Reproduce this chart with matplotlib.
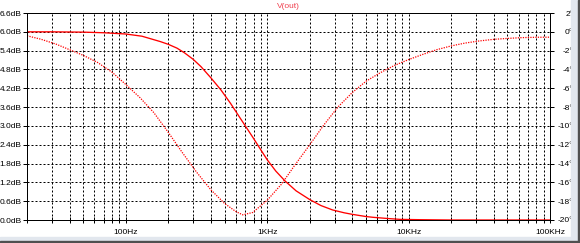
import numpy as np
import matplotlib
matplotlib.use('Agg')
import matplotlib.pyplot as plt
from matplotlib.patches import Rectangle

plt.rcParams['font.family'] = ['Liberation Sans', 'DejaVu Sans']

# magnitude trace (solid), dB on left axis
freq_mag = [20, 30, 50, 70, 100, 130, 175, 200, 230, 260, 300, 340, 400, 470,
            550, 650, 790, 900, 1000, 1150, 1340, 1600, 2000, 2400, 2900,
            3500, 4000, 5000, 5600, 7000, 8700, 12000, 20000, 50000, 100000]
mag_db = [6.0, 6.0, 5.99, 5.97, 5.93, 5.86, 5.69, 5.60, 5.48, 5.33, 5.12, 4.89,
          4.53, 4.15, 3.72, 3.22, 2.64, 2.24, 1.92, 1.56, 1.24, 0.93, 0.65,
          0.46, 0.32, 0.23, 0.18, 0.11, 0.086, 0.05, 0.02, 0.01, 0.0, 0.0, 0.0]

# phase trace (dotted), right axis
freq_ph = [20, 25, 32, 40, 50, 63, 80, 100, 126, 158, 200, 250, 316, 400, 500,
           600, 670, 790, 1000, 1260, 1580, 2000, 2500, 3160, 4000, 5000,
           6300, 8000, 10000, 12600, 15800, 20000, 25000, 31600, 40000,
           50000, 63000, 80000, 100000]
phase_deg = [-0.42, -0.78, -1.3, -1.9, -2.5, -3.25, -4.3, -5.6, -7.0, -8.6,
             -10.7, -12.8, -14.9, -16.8, -18.25, -19.1, -19.45, -19.2, -17.9,
             -16.2, -14.1, -12.0, -9.95, -8.0, -6.45, -5.25, -4.35, -3.55,
             -2.95, -2.4, -1.9, -1.5, -1.2, -0.97, -0.8, -0.7, -0.62, -0.58,
             -0.57]

left_ticks = np.round(np.arange(0, 6.61, 0.6), 1)
right_ticks = np.arange(-20, 3, 2)
decades = [100, 1000, 10000, 100000]
decade_labels = ['100Hz', '1KHz', '10KHz', '100KHz']
minor_x = [m * d for d in [10, 100, 1000, 10000] for m in range(2, 10) if m * d >= 20]

W, H = 580, 243
fig = plt.figure(figsize=(W / 100, H / 100), dpi=100)
ax = fig.add_axes([27 / W, (H - 220) / H, (550 - 27) / W, (220 - 13) / H])

ax.set_xscale('log')
ax.set_xlim(20, 100000)
ax.set_ylim(0, 6.6)
ax.plot(freq_mag, mag_db, color='#ff0000', lw=0.95, zorder=3)

ax.set_xticks(decades)
ax.set_xticklabels(decade_labels)
ax.set_xticks(minor_x, minor=True)
ax.xaxis.set_minor_formatter(plt.NullFormatter())
ax.set_yticks(left_ticks)
ax.set_yticklabels([f'{v:.1f}dB' for v in left_ticks])

grid_style = dict(color='black', ls=(0, (2, 2)), lw=0.72)
ax.grid(True, which='both', axis='x', **grid_style)
ax.grid(True, which='major', axis='y', **grid_style)

ax.tick_params(axis='y', direction='out', length=3, width=0.72, pad=1,
               labelsize=6)
ax.tick_params(axis='x', which='both', direction='inout', length=4.5,
               width=0.72, pad=4, labelsize=6)
for s in ax.spines.values():
    s.set_linewidth(0.72)

ax2 = ax.twinx()
ax2.set_ylim(-20, 2)
ax2.plot(freq_ph, phase_deg, color='#ff0000', lw=0.9, ls=(0, (1, 1)))
ax2.set_yticks(right_ticks)
ax2.set_yticklabels([f'{v}°' for v in right_ticks])
ax2.tick_params(axis='y', direction='out', length=3, width=0.72, pad=13.7,
                labelsize=6)
for lbl in ax2.get_yticklabels():
    lbl.set_horizontalalignment('right')
for s in ax2.spines.values():
    s.set_linewidth(0.72)

fig.text(288 / W, 1 - 6 / H, 'V(out)', color='#f0404f', fontsize=6,
         ha='center', va='center')

# window frame on the right and bottom
fig.add_artist(Rectangle((571 / W, 0), 7 / W, 1, transform=fig.transFigure,
                         color='#e2e7ee', zorder=10))
fig.add_artist(Rectangle((578 / W, 0), 2 / W, 1, transform=fig.transFigure,
                         color='#505050', zorder=11))
fig.add_artist(Rectangle((0, 2 / H), 1, 4 / H, transform=fig.transFigure,
                         color='#e2e7ee', zorder=10))
fig.add_artist(Rectangle((0, 0), 1, 2 / H, transform=fig.transFigure,
                         color='#505050', zorder=11))

fig.savefig('out.png', dpi=100)
